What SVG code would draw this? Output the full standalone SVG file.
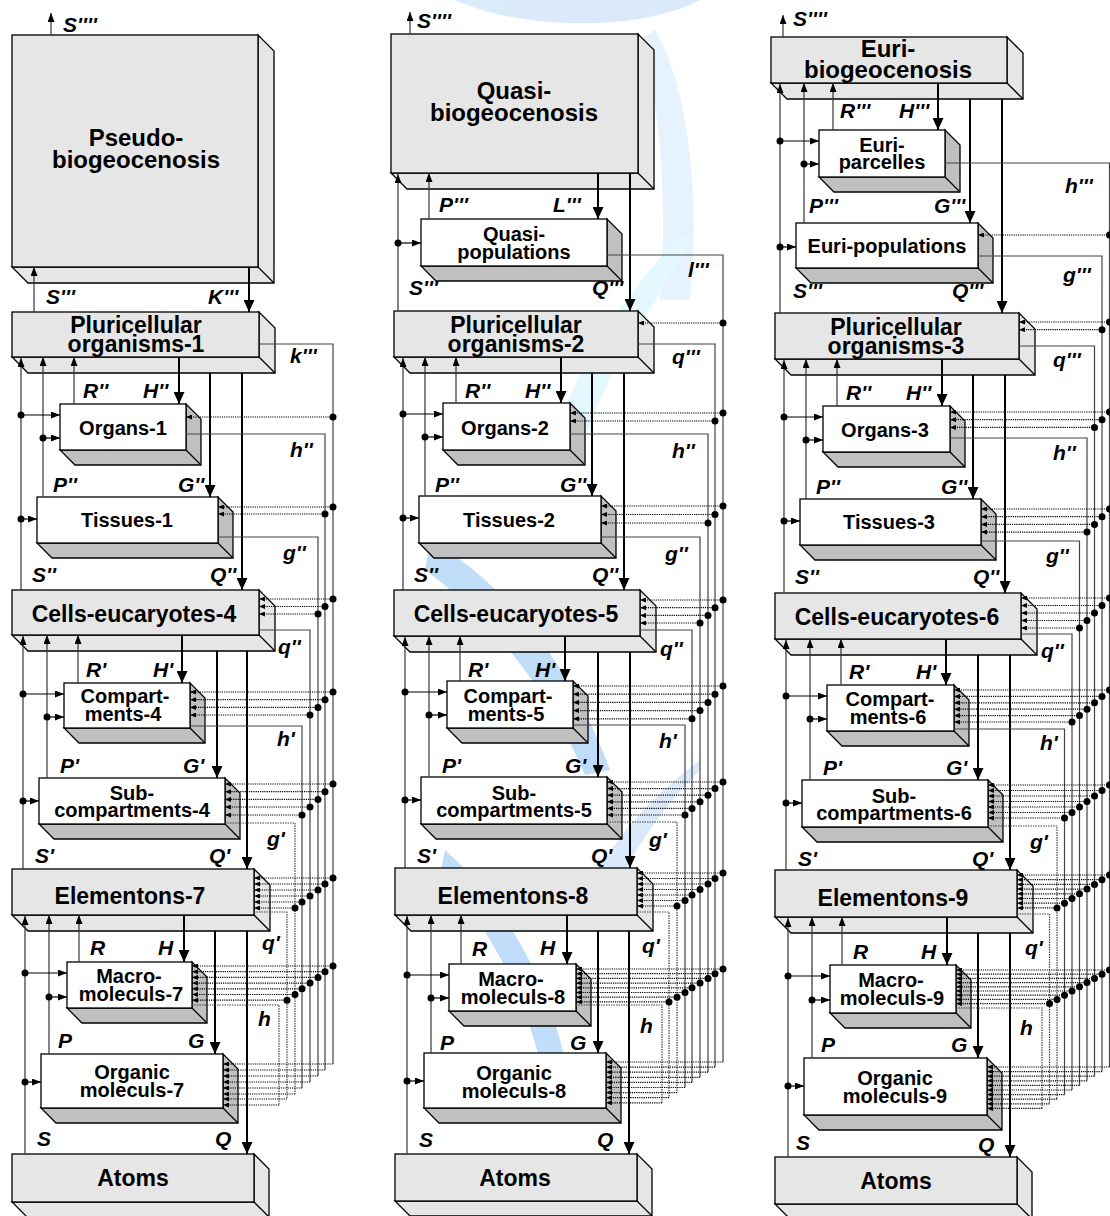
<svg xmlns="http://www.w3.org/2000/svg" width="1110" height="1216" viewBox="0 0 1110 1216">
<defs>
<marker id="ab" viewBox="0 0 12 11" refX="12" refY="5.5" markerWidth="12" markerHeight="11" markerUnits="userSpaceOnUse" orient="auto"><path d="M0,0 L12,5.5 L0,11 z" fill="#000"/></marker>
<marker id="am" viewBox="0 0 9 7" refX="9" refY="3.5" markerWidth="9" markerHeight="7" markerUnits="userSpaceOnUse" orient="auto"><path d="M0,0 L9,3.5 L0,7 z" fill="#000"/></marker>
<marker id="as" viewBox="0 0 6 5" refX="6" refY="2.5" markerWidth="6" markerHeight="5" markerUnits="userSpaceOnUse" orient="auto"><path d="M0,0 L6,2.5 L0,5 z" fill="#000"/></marker>
</defs>
<style>
.fg{fill:#e6e6e6;stroke:#000;stroke-width:1.3}
.sg{fill:#e6e6e6;stroke:#000;stroke-width:1.3;stroke-linejoin:miter}
.fw{fill:#fff;stroke:#000;stroke-width:1.3}
.sw{fill:#c0c0c0;stroke:#000;stroke-width:1.3;stroke-linejoin:miter}
.ed{stroke:#000;stroke-width:1.3}
.tn{font-family:"Liberation Sans",Arial,sans-serif;font-weight:bold;font-size:23px;text-anchor:middle;fill:#000}
.tb{font-family:"Liberation Sans",Arial,sans-serif;font-weight:bold;font-size:24px;text-anchor:middle;fill:#000}
.tw{font-family:"Liberation Sans",Arial,sans-serif;font-weight:bold;font-size:20px;text-anchor:middle;fill:#000}
.lb{font-family:"Liberation Sans",Arial,sans-serif;font-weight:bold;font-style:italic;font-size:21px;fill:#000}
.dn{stroke:#000;stroke-width:2;fill:none;marker-end:url(#ab)}
.up{stroke:#333;stroke-width:1.2;fill:none;marker-end:url(#am)}
.lf{stroke:#000;stroke-width:1.2;marker-end:url(#am)}
.bus{stroke:#444;stroke-width:1.2;fill:none}
.bd{stroke:#444;stroke-width:1.2;fill:none;stroke-dasharray:1.5 1}
.fd{stroke:#000;stroke-width:1.2;stroke-dasharray:1.2 1;marker-end:url(#as)}
.dt{fill:#000}
</style>
<rect width="1110" height="1216" fill="#fff"/>
<g id="watermark" opacity="0.38">
<path d="M455,0 C520,30 640,32 700,0 Z" fill="#9fcaf5"/>
<path d="M655,30 C690,90 700,200 690,300 L660,300 C668,200 660,100 640,40 Z" fill="#bfe0ff"/>
<path d="M690,240 C660,300 610,360 590,430 L560,420 C590,340 640,280 680,235 Z" fill="#b9f0ff"/>
<path d="M430,540 C500,580 570,660 610,770 L585,775 C545,680 480,610 425,570 Z" fill="#5aa8f0"/>
<path d="M700,770 C670,800 640,840 620,880 L600,870 C620,830 660,790 700,760 Z" fill="#9fcaf5"/>
<path d="M445,850 C500,900 545,970 565,1060 L540,1062 C520,980 480,915 440,875 Z" fill="#5aa8f0"/>
</g>
<g id="nodes">
<g id="n-pseudo"><polygon class="sg" points="12,267 258,267 258,35 274,51 274,283 28,283"/><line class="ed" x1="258" y1="267" x2="274" y2="283"/><rect class="fg" x="12" y="35" width="246" height="232"/><text class="tb" x="136" y="146">Pseudo-</text><text class="tb" x="136" y="168">biogeocenosis</text></g>
<g id="n-pluri1"><polygon class="sg" points="12,357 259,357 259,312 275,328 275,373 28,373"/><line class="ed" x1="259" y1="357" x2="275" y2="373"/><rect class="fg" x="12" y="312" width="247" height="45"/><text class="tn" x="136" y="333">Pluricellular</text><text class="tn" x="136" y="352">organisms-1</text></g>
<g id="n-organs1"><polygon class="sw" points="60,450 186,450 186,404 201,419 201,465 75,465"/><line class="ed" x1="186" y1="450" x2="201" y2="465"/><rect class="fw" x="60" y="404" width="126" height="46"/><text class="tw" x="123" y="435">Organs-1</text></g>
<g id="n-tissues1"><polygon class="sw" points="37,543 218,543 218,497 233,512 233,558 52,558"/><line class="ed" x1="218" y1="543" x2="233" y2="558"/><rect class="fw" x="37" y="497" width="181" height="46"/><text class="tw" x="127" y="527">Tissues-1</text></g>
<g id="n-cells4"><polygon class="sg" points="12,635 259,635 259,590 275,606 275,651 28,651"/><line class="ed" x1="259" y1="635" x2="275" y2="651"/><rect class="fg" x="12" y="590" width="247" height="45"/><text class="tn" x="134" y="622">Cells-eucaryotes-4</text></g>
<g id="n-comp4"><polygon class="sw" points="64,728 190,728 190,683 205,698 205,743 79,743"/><line class="ed" x1="190" y1="728" x2="205" y2="743"/><rect class="fw" x="64" y="683" width="126" height="45"/><text class="tw" x="125" y="703">Compart-</text><text class="tw" x="123" y="721">ments-4</text></g>
<g id="n-sub4"><polygon class="sw" points="39,824 225,824 225,778 240,793 240,839 54,839"/><line class="ed" x1="225" y1="824" x2="240" y2="839"/><rect class="fw" x="39" y="778" width="186" height="46"/><text class="tw" x="132" y="800">Sub-</text><text class="tw" x="132" y="817">compartments-4</text></g>
<g id="n-elem7"><polygon class="sg" points="12,915 254,915 254,869 270,885 270,931 28,931"/><line class="ed" x1="254" y1="915" x2="270" y2="931"/><rect class="fg" x="12" y="869" width="242" height="46"/><text class="tn" x="130" y="904">Elementons-7</text></g>
<g id="n-macro7"><polygon class="sw" points="67,1008 192,1008 192,962 207,977 207,1023 82,1023"/><line class="ed" x1="192" y1="1008" x2="207" y2="1023"/><rect class="fw" x="67" y="962" width="125" height="46"/><text class="tw" x="129" y="983">Macro-</text><text class="tw" x="131" y="1001">moleculs-7</text></g>
<g id="n-org7"><polygon class="sw" points="41,1108 223,1108 223,1054 238,1069 238,1123 56,1123"/><line class="ed" x1="223" y1="1108" x2="238" y2="1123"/><rect class="fw" x="41" y="1054" width="182" height="54"/><text class="tw" x="132" y="1079">Organic</text><text class="tw" x="132" y="1097">moleculs-7</text></g>
<g id="n-atoms1"><polygon class="sg" points="12,1202 254,1202 254,1154 269,1169 269,1217 27,1217"/><line class="ed" x1="254" y1="1202" x2="269" y2="1217"/><rect class="fg" x="12" y="1154" width="242" height="48"/><text class="tn" x="133" y="1186">Atoms</text></g>

<g id="n-quasibio"><polygon class="sg" points="391,173 638,173 638,34 654,50 654,189 407,189"/><line class="ed" x1="638" y1="173" x2="654" y2="189"/><rect class="fg" x="391" y="34" width="247" height="139"/><text class="tb" x="514" y="99">Quasi-</text><text class="tb" x="514" y="121">biogeocenosis</text></g>
<g id="n-quasipop"><polygon class="sw" points="421,266 607,266 607,219 622,234 622,281 436,281"/><line class="ed" x1="607" y1="266" x2="622" y2="281"/><rect class="fw" x="421" y="219" width="186" height="47"/><text class="tw" x="514" y="241">Quasi-</text><text class="tw" x="514" y="259">populations</text></g>
<g id="n-pluri2"><polygon class="sg" points="394,357 638,357 638,311 654,327 654,373 410,373"/><line class="ed" x1="638" y1="357" x2="654" y2="373"/><rect class="fg" x="394" y="311" width="244" height="46"/><text class="tn" x="516" y="333">Pluricellular</text><text class="tn" x="516" y="352">organisms-2</text></g>
<g id="n-organs2"><polygon class="sw" points="443,450 570,450 570,403 585,418 585,465 458,465"/><line class="ed" x1="570" y1="450" x2="585" y2="465"/><rect class="fw" x="443" y="403" width="127" height="47"/><text class="tw" x="505" y="435">Organs-2</text></g>
<g id="n-tissues2"><polygon class="sw" points="419,543 601,543 601,496 616,511 616,558 434,558"/><line class="ed" x1="601" y1="543" x2="616" y2="558"/><rect class="fw" x="419" y="496" width="182" height="47"/><text class="tw" x="509" y="527">Tissues-2</text></g>
<g id="n-cells5"><polygon class="sg" points="394,636 640,636 640,590 656,606 656,652 410,652"/><line class="ed" x1="640" y1="636" x2="656" y2="652"/><rect class="fg" x="394" y="590" width="246" height="46"/><text class="tn" x="516" y="622">Cells-eucaryotes-5</text></g>
<g id="n-comp5"><polygon class="sw" points="447,728 573,728 573,681 588,696 588,743 462,743"/><line class="ed" x1="573" y1="728" x2="588" y2="743"/><rect class="fw" x="447" y="681" width="126" height="47"/><text class="tw" x="508" y="703">Compart-</text><text class="tw" x="506" y="721">ments-5</text></g>
<g id="n-sub5"><polygon class="sw" points="421,824 607,824 607,777 622,792 622,839 436,839"/><line class="ed" x1="607" y1="824" x2="622" y2="839"/><rect class="fw" x="421" y="777" width="186" height="47"/><text class="tw" x="514" y="800">Sub-</text><text class="tw" x="514" y="817">compartments-5</text></g>
<g id="n-elem8"><polygon class="sg" points="395,915 637,915 637,868 653,884 653,931 411,931"/><line class="ed" x1="637" y1="915" x2="653" y2="931"/><rect class="fg" x="395" y="868" width="242" height="47"/><text class="tn" x="513" y="904">Elementons-8</text></g>
<g id="n-macro8"><polygon class="sw" points="449,1011 576,1011 576,964 591,979 591,1026 464,1026"/><line class="ed" x1="576" y1="1011" x2="591" y2="1026"/><rect class="fw" x="449" y="964" width="127" height="47"/><text class="tw" x="511" y="986">Macro-</text><text class="tw" x="513" y="1004">moleculs-8</text></g>
<g id="n-org8"><polygon class="sw" points="424,1108 606,1108 606,1053 621,1068 621,1123 439,1123"/><line class="ed" x1="606" y1="1108" x2="621" y2="1123"/><rect class="fw" x="424" y="1053" width="182" height="55"/><text class="tw" x="514" y="1080">Organic</text><text class="tw" x="514" y="1098">moleculs-8</text></g>
<g id="n-atoms2"><polygon class="sg" points="395,1201 637,1201 637,1154 652,1169 652,1216 410,1216"/><line class="ed" x1="637" y1="1201" x2="652" y2="1216"/><rect class="fg" x="395" y="1154" width="242" height="47"/><text class="tn" x="515" y="1186">Atoms</text></g>

<g id="n-euribio"><polygon class="sg" points="771,83 1007,83 1007,37 1023,53 1023,99 787,99"/><line class="ed" x1="1007" y1="83" x2="1023" y2="99"/><rect class="fg" x="771" y="37" width="236" height="46"/><text class="tb" x="888" y="57">Euri-</text><text class="tb" x="888" y="78">biogeocenosis</text></g>
<g id="n-eurip"><polygon class="sw" points="819,177 945,177 945,130 960,145 960,192 834,192"/><line class="ed" x1="945" y1="177" x2="960" y2="192"/><rect class="fw" x="819" y="130" width="126" height="47"/><text class="tw" x="882" y="152">Euri-</text><text class="tw" x="882" y="169">parcelles</text></g>
<g id="n-euripop"><polygon class="sw" points="796,268 978,268 978,223 993,238 993,283 811,283"/><line class="ed" x1="978" y1="268" x2="993" y2="283"/><rect class="fw" x="796" y="223" width="182" height="45"/><text class="tw" x="887" y="253">Euri-populations</text></g>
<g id="n-pluri3"><polygon class="sg" points="775,359 1019,359 1019,313 1035,329 1035,375 791,375"/><line class="ed" x1="1019" y1="359" x2="1035" y2="375"/><rect class="fg" x="775" y="313" width="244" height="46"/><text class="tn" x="896" y="335">Pluricellular</text><text class="tn" x="896" y="354">organisms-3</text></g>
<g id="n-organs3"><polygon class="sw" points="823,452 950,452 950,406 965,421 965,467 838,467"/><line class="ed" x1="950" y1="452" x2="965" y2="467"/><rect class="fw" x="823" y="406" width="127" height="46"/><text class="tw" x="885" y="437">Organs-3</text></g>
<g id="n-tissues3"><polygon class="sw" points="800,545 981,545 981,499 996,514 996,560 815,560"/><line class="ed" x1="981" y1="545" x2="996" y2="560"/><rect class="fw" x="800" y="499" width="181" height="46"/><text class="tw" x="889" y="529">Tissues-3</text></g>
<g id="n-cells6"><polygon class="sg" points="775,639 1021,639 1021,593 1037,609 1037,655 791,655"/><line class="ed" x1="1021" y1="639" x2="1037" y2="655"/><rect class="fg" x="775" y="593" width="246" height="46"/><text class="tn" x="897" y="625">Cells-eucaryotes-6</text></g>
<g id="n-comp6"><polygon class="sw" points="827,731 954,731 954,685 969,700 969,746 842,746"/><line class="ed" x1="954" y1="731" x2="969" y2="746"/><rect class="fw" x="827" y="685" width="127" height="46"/><text class="tw" x="890" y="706">Compart-</text><text class="tw" x="888" y="724">ments-6</text></g>
<g id="n-sub6"><polygon class="sw" points="802,827 988,827 988,780 1003,795 1003,842 817,842"/><line class="ed" x1="988" y1="827" x2="1003" y2="842"/><rect class="fw" x="802" y="780" width="186" height="47"/><text class="tw" x="894" y="803">Sub-</text><text class="tw" x="894" y="820">compartments-6</text></g>
<g id="n-elem9"><polygon class="sg" points="775,917 1017,917 1017,870 1033,886 1033,933 791,933"/><line class="ed" x1="1017" y1="917" x2="1033" y2="933"/><rect class="fg" x="775" y="870" width="242" height="47"/><text class="tn" x="893" y="906">Elementons-9</text></g>
<g id="n-macro9"><polygon class="sw" points="830,1013 956,1013 956,965 971,980 971,1028 845,1028"/><line class="ed" x1="956" y1="1013" x2="971" y2="1028"/><rect class="fw" x="830" y="965" width="126" height="48"/><text class="tw" x="891" y="987">Macro-</text><text class="tw" x="892" y="1005">moleculs-9</text></g>
<g id="n-org9"><polygon class="sw" points="804,1115 987,1115 987,1058 1002,1073 1002,1130 819,1130"/><line class="ed" x1="987" y1="1115" x2="1002" y2="1130"/><rect class="fw" x="804" y="1058" width="183" height="57"/><text class="tw" x="895" y="1085">Organic</text><text class="tw" x="895" y="1103">moleculs-9</text></g>
<g id="n-atoms3"><polygon class="sg" points="775,1204 1017,1204 1017,1157 1032,1172 1032,1219 790,1219"/><line class="ed" x1="1017" y1="1204" x2="1032" y2="1219"/><rect class="fg" x="775" y="1157" width="242" height="47"/><text class="tn" x="896" y="1189">Atoms</text></g>
</g>

<g id="connectors">
<g class="c1">
<line class="dn" x1="249" y1="267" x2="249" y2="312"/>
<line class="dn" x1="179" y1="357" x2="179" y2="404"/>
<line class="dn" x1="210" y1="373" x2="210" y2="497"/>
<line class="dn" x1="242" y1="373" x2="242" y2="590"/>
<line class="dn" x1="182" y1="635" x2="182" y2="683"/>
<line class="dn" x1="217" y1="651" x2="217" y2="778"/>
<line class="dn" x1="247" y1="651" x2="247" y2="869"/>
<line class="dn" x1="184" y1="915" x2="184" y2="962"/>
<line class="dn" x1="215" y1="931" x2="215" y2="1054"/>
<line class="dn" x1="247" y1="931" x2="247" y2="1154"/>
<line class="up" x1="51" y1="35" x2="51" y2="13"/>
<line class="up" x1="34" y1="312" x2="34" y2="267"/>
<line class="up" x1="74" y1="404" x2="74" y2="357"/>
<line class="up" x1="43" y1="497" x2="43" y2="357"/>
<line class="up" x1="21" y1="590" x2="21" y2="358"/>
<line class="up" x1="78" y1="683" x2="78" y2="635"/>
<line class="up" x1="47" y1="778" x2="47" y2="635"/>
<line class="up" x1="23" y1="869" x2="23" y2="636"/>
<line class="up" x1="79" y1="962" x2="79" y2="915"/>
<line class="up" x1="49" y1="1054" x2="49" y2="915"/>
<line class="up" x1="25" y1="1154" x2="25" y2="916"/>
<line class="lf" x1="21" y1="415" x2="60" y2="415"/><line class="lf" x1="43" y1="438" x2="60" y2="438"/>
<line class="lf" x1="21" y1="519" x2="37" y2="519"/>
<line class="lf" x1="23" y1="694" x2="64" y2="694"/><line class="lf" x1="47" y1="717" x2="64" y2="717"/>
<line class="lf" x1="23" y1="801" x2="39" y2="801"/>
<line class="lf" x1="25" y1="973" x2="67" y2="973"/><line class="lf" x1="49" y1="997" x2="67" y2="997"/>
<line class="lf" x1="25" y1="1082" x2="41" y2="1082"/>
<g class="dt"><circle cx="21" cy="415" r="3.5"/><circle cx="43" cy="438" r="3.5"/><circle cx="21" cy="519" r="3.5"/><circle cx="23" cy="694" r="3.5"/><circle cx="47" cy="717" r="3.5"/><circle cx="23" cy="801" r="3.5"/><circle cx="25" cy="973" r="3.5"/><circle cx="49" cy="997" r="3.5"/><circle cx="25" cy="1082" r="3.5"/></g>
<path class="bus" d="M259,344 H333 V1064"/>
<path class="bus" d="M186,434 H325 V1070"/>
<path class="bus" d="M218,537 H318 V1076"/>
<path class="bus" d="M259,630 H310 V1082"/>
<path class="bus" d="M190,726 H302 V1088"/>
<path class="bd" d="M225,823 H295 V1094"/>
<path class="bd" d="M254,912 H287 V1099"/>
<path class="bd" d="M192,1005 H279 V1105"/>
<line class="fd" x1="333" y1="417" x2="186" y2="417"/>
<line class="fd" x1="333" y1="507" x2="218" y2="507"/><line class="fd" x1="325" y1="514" x2="218" y2="514"/>
<line class="fd" x1="333" y1="599" x2="259" y2="599"/><line class="fd" x1="325" y1="606.5" x2="259" y2="606.5"/><line class="fd" x1="318" y1="614" x2="259" y2="614"/>
<line class="fd" x1="333" y1="692" x2="190" y2="692"/><line class="fd" x1="325" y1="699.7" x2="190" y2="699.7"/><line class="fd" x1="318" y1="707.4" x2="190" y2="707.4"/><line class="fd" x1="310" y1="715" x2="190" y2="715"/>
<line class="fd" x1="333" y1="784" x2="225" y2="784"/><line class="fd" x1="325" y1="791.7" x2="225" y2="791.7"/><line class="fd" x1="318" y1="799.4" x2="225" y2="799.4"/><line class="fd" x1="310" y1="807" x2="225" y2="807"/><line class="fd" x1="302" y1="815" x2="225" y2="815"/>
<line class="fd" x1="333" y1="878" x2="254" y2="878"/><line class="fd" x1="325" y1="884" x2="254" y2="884"/><line class="fd" x1="318" y1="890" x2="254" y2="890"/><line class="fd" x1="310" y1="896" x2="254" y2="896"/><line class="fd" x1="302" y1="902" x2="254" y2="902"/><line class="fd" x1="295" y1="908" x2="254" y2="908"/>
<line class="fd" x1="333" y1="966" x2="192" y2="966"/><line class="fd" x1="325" y1="971.7" x2="192" y2="971.7"/><line class="fd" x1="318" y1="977.4" x2="192" y2="977.4"/><line class="fd" x1="310" y1="983.1" x2="192" y2="983.1"/><line class="fd" x1="302" y1="988.8" x2="192" y2="988.8"/><line class="fd" x1="295" y1="994.5" x2="192" y2="994.5"/><line class="fd" x1="287" y1="1000.2" x2="192" y2="1000.2"/>
<line class="fd" x1="333" y1="1064" x2="223" y2="1064"/><line class="fd" x1="325" y1="1070" x2="223" y2="1070"/><line class="fd" x1="318" y1="1076" x2="223" y2="1076"/><line class="fd" x1="310" y1="1082" x2="223" y2="1082"/><line class="fd" x1="302" y1="1088" x2="223" y2="1088"/><line class="fd" x1="295" y1="1094" x2="223" y2="1094"/><line class="fd" x1="287" y1="1099" x2="223" y2="1099"/><line class="fd" x1="279" y1="1105" x2="223" y2="1105"/>
<g class="dt">
<circle cx="333" cy="417" r="3.5"/>
<circle cx="333" cy="507" r="3.5"/><circle cx="325" cy="514" r="3.5"/>
<circle cx="333" cy="599" r="3.5"/><circle cx="325" cy="606.5" r="3.5"/><circle cx="318" cy="614" r="3.5"/>
<circle cx="333" cy="692" r="3.5"/><circle cx="325" cy="699.7" r="3.5"/><circle cx="318" cy="707.4" r="3.5"/><circle cx="310" cy="715" r="3.5"/>
<circle cx="333" cy="784" r="3.5"/><circle cx="325" cy="791.7" r="3.5"/><circle cx="318" cy="799.4" r="3.5"/><circle cx="310" cy="807" r="3.5"/><circle cx="302" cy="815" r="3.5"/>
<circle cx="333" cy="878" r="3.5"/><circle cx="325" cy="884" r="3.5"/><circle cx="318" cy="890" r="3.5"/><circle cx="310" cy="896" r="3.5"/><circle cx="302" cy="902" r="3.5"/><circle cx="295" cy="908" r="3.5"/>
<circle cx="333" cy="966" r="3.5"/><circle cx="325" cy="971.7" r="3.5"/><circle cx="318" cy="977.4" r="3.5"/><circle cx="310" cy="983.1" r="3.5"/><circle cx="302" cy="988.8" r="3.5"/><circle cx="295" cy="994.5" r="3.5"/><circle cx="287" cy="1000.2" r="3.5"/>
</g>
</g>
<g class="c2">
<line class="dn" x1="598" y1="173" x2="598" y2="219"/>
<line class="dn" x1="630" y1="173" x2="630" y2="311"/>
<line class="dn" x1="561" y1="357" x2="561" y2="403"/>
<line class="dn" x1="592" y1="373" x2="592" y2="496"/>
<line class="dn" x1="624" y1="373" x2="624" y2="590"/>
<line class="dn" x1="565" y1="636" x2="565" y2="681"/>
<line class="dn" x1="598" y1="652" x2="598" y2="777"/>
<line class="dn" x1="630" y1="652" x2="630" y2="868"/>
<line class="dn" x1="567" y1="915" x2="567" y2="964"/>
<line class="dn" x1="598" y1="931" x2="598" y2="1053"/>
<line class="dn" x1="629" y1="931" x2="629" y2="1154"/>
<line class="up" x1="410" y1="34" x2="410" y2="12"/>
<line class="up" x1="398" y1="311" x2="398" y2="174"/>
<line class="up" x1="429" y1="219" x2="429" y2="173"/>
<line class="up" x1="456" y1="403" x2="456" y2="357"/>
<line class="up" x1="425" y1="496" x2="425" y2="357"/>
<line class="up" x1="403" y1="590" x2="403" y2="358"/>
<line class="up" x1="460" y1="681" x2="460" y2="636"/>
<line class="up" x1="429" y1="777" x2="429" y2="636"/>
<line class="up" x1="405" y1="868" x2="405" y2="637"/>
<line class="up" x1="461" y1="964" x2="461" y2="915"/>
<line class="up" x1="431" y1="1053" x2="431" y2="915"/>
<line class="up" x1="407" y1="1154" x2="407" y2="916"/>
<line class="lf" x1="398" y1="243" x2="421" y2="243"/>
<line class="lf" x1="403" y1="414" x2="443" y2="414"/><line class="lf" x1="425" y1="437" x2="443" y2="437"/>
<line class="lf" x1="403" y1="518" x2="419" y2="518"/>
<line class="lf" x1="405" y1="692" x2="447" y2="692"/><line class="lf" x1="429" y1="715" x2="447" y2="715"/>
<line class="lf" x1="405" y1="800" x2="421" y2="800"/>
<line class="lf" x1="407" y1="975" x2="449" y2="975"/><line class="lf" x1="431" y1="998" x2="449" y2="998"/>
<line class="lf" x1="407" y1="1081" x2="424" y2="1081"/>
<g class="dt"><circle cx="398" cy="243" r="3.5"/><circle cx="403" cy="414" r="3.5"/><circle cx="425" cy="437" r="3.5"/><circle cx="403" cy="518" r="3.5"/><circle cx="405" cy="692" r="3.5"/><circle cx="429" cy="715" r="3.5"/><circle cx="405" cy="800" r="3.5"/><circle cx="407" cy="975" r="3.5"/><circle cx="431" cy="998" r="3.5"/><circle cx="407" cy="1081" r="3.5"/></g>
<path class="bus" d="M607,255 H723 V1062"/>
<path class="bus" d="M638,344 H715 V1067.1"/>
<path class="bus" d="M570,434 H708 V1072.2"/>
<path class="bus" d="M601,537 H700 V1077.3"/>
<path class="bus" d="M640,630 H692 V1082.4"/>
<path class="bus" d="M573,725 H685 V1087.5"/>
<path class="bd" d="M607,822 H677 V1092.6"/>
<path class="bd" d="M637,912 H669 V1097.7"/>
<path class="bd" d="M576,1005 H662 V1102.8"/>
<line class="fd" x1="723" y1="323" x2="638" y2="323"/>
<line class="fd" x1="723" y1="413" x2="570" y2="413"/><line class="fd" x1="715" y1="421" x2="570" y2="421"/>
<line class="fd" x1="723" y1="506" x2="601" y2="506"/><line class="fd" x1="715" y1="514.5" x2="601" y2="514.5"/><line class="fd" x1="708" y1="523" x2="601" y2="523"/>
<line class="fd" x1="723" y1="600" x2="640" y2="600"/><line class="fd" x1="715" y1="607.7" x2="640" y2="607.7"/><line class="fd" x1="708" y1="615.4" x2="640" y2="615.4"/><line class="fd" x1="700" y1="623" x2="640" y2="623"/>
<line class="fd" x1="723" y1="686" x2="573" y2="686"/><line class="fd" x1="715" y1="694.2" x2="573" y2="694.2"/><line class="fd" x1="708" y1="702.4" x2="573" y2="702.4"/><line class="fd" x1="700" y1="710.6" x2="573" y2="710.6"/><line class="fd" x1="692" y1="718.8" x2="573" y2="718.8"/>
<line class="fd" x1="723" y1="782" x2="607" y2="782"/><line class="fd" x1="715" y1="788.6" x2="607" y2="788.6"/><line class="fd" x1="708" y1="795.2" x2="607" y2="795.2"/><line class="fd" x1="700" y1="801.8" x2="607" y2="801.8"/><line class="fd" x1="692" y1="808.4" x2="607" y2="808.4"/><line class="fd" x1="685" y1="815" x2="607" y2="815"/>
<line class="fd" x1="723" y1="873" x2="637" y2="873"/><line class="fd" x1="715" y1="878.5" x2="637" y2="878.5"/><line class="fd" x1="708" y1="884" x2="637" y2="884"/><line class="fd" x1="700" y1="889.5" x2="637" y2="889.5"/><line class="fd" x1="692" y1="895" x2="637" y2="895"/><line class="fd" x1="685" y1="900.5" x2="637" y2="900.5"/><line class="fd" x1="677" y1="906" x2="637" y2="906"/>
<line class="fd" x1="723" y1="969" x2="576" y2="969"/><line class="fd" x1="715" y1="973.7" x2="576" y2="973.7"/><line class="fd" x1="708" y1="978.4" x2="576" y2="978.4"/><line class="fd" x1="700" y1="983.1" x2="576" y2="983.1"/><line class="fd" x1="692" y1="987.8" x2="576" y2="987.8"/><line class="fd" x1="685" y1="992.5" x2="576" y2="992.5"/><line class="fd" x1="677" y1="997.2" x2="576" y2="997.2"/><line class="fd" x1="669" y1="1001.9" x2="576" y2="1001.9"/>
<line class="fd" x1="723" y1="1062" x2="606" y2="1062"/><line class="fd" x1="715" y1="1067.1" x2="606" y2="1067.1"/><line class="fd" x1="708" y1="1072.2" x2="606" y2="1072.2"/><line class="fd" x1="700" y1="1077.3" x2="606" y2="1077.3"/><line class="fd" x1="692" y1="1082.4" x2="606" y2="1082.4"/><line class="fd" x1="685" y1="1087.5" x2="606" y2="1087.5"/><line class="fd" x1="677" y1="1092.6" x2="606" y2="1092.6"/><line class="fd" x1="669" y1="1097.7" x2="606" y2="1097.7"/><line class="fd" x1="662" y1="1102.8" x2="606" y2="1102.8"/>
<g class="dt">
<circle cx="723" cy="323" r="3.5"/>
<circle cx="723" cy="413" r="3.5"/><circle cx="715" cy="421" r="3.5"/>
<circle cx="723" cy="506" r="3.5"/><circle cx="715" cy="514.5" r="3.5"/><circle cx="708" cy="523" r="3.5"/>
<circle cx="723" cy="600" r="3.5"/><circle cx="715" cy="607.7" r="3.5"/><circle cx="708" cy="615.4" r="3.5"/><circle cx="700" cy="623" r="3.5"/>
<circle cx="723" cy="686" r="3.5"/><circle cx="715" cy="694.2" r="3.5"/><circle cx="708" cy="702.4" r="3.5"/><circle cx="700" cy="710.6" r="3.5"/><circle cx="692" cy="718.8" r="3.5"/>
<circle cx="723" cy="782" r="3.5"/><circle cx="715" cy="788.6" r="3.5"/><circle cx="708" cy="795.2" r="3.5"/><circle cx="700" cy="801.8" r="3.5"/><circle cx="692" cy="808.4" r="3.5"/><circle cx="685" cy="815" r="3.5"/>
<circle cx="723" cy="873" r="3.5"/><circle cx="715" cy="878.5" r="3.5"/><circle cx="708" cy="884" r="3.5"/><circle cx="700" cy="889.5" r="3.5"/><circle cx="692" cy="895" r="3.5"/><circle cx="685" cy="900.5" r="3.5"/><circle cx="677" cy="906" r="3.5"/>
<circle cx="723" cy="969" r="3.5"/><circle cx="715" cy="973.7" r="3.5"/><circle cx="708" cy="978.4" r="3.5"/><circle cx="700" cy="983.1" r="3.5"/><circle cx="692" cy="987.8" r="3.5"/><circle cx="685" cy="992.5" r="3.5"/><circle cx="677" cy="997.2" r="3.5"/><circle cx="669" cy="1001.9" r="3.5"/>
</g>
</g>
<g class="c3">
<line class="dn" x1="938" y1="83" x2="938" y2="130"/>
<line class="dn" x1="970" y1="99" x2="970" y2="223"/>
<line class="dn" x1="1002" y1="99" x2="1002" y2="313"/>
<line class="dn" x1="942" y1="359" x2="942" y2="406"/>
<line class="dn" x1="973" y1="375" x2="973" y2="499"/>
<line class="dn" x1="1005" y1="375" x2="1005" y2="593"/>
<line class="dn" x1="946" y1="639" x2="946" y2="685"/>
<line class="dn" x1="978" y1="655" x2="978" y2="780"/>
<line class="dn" x1="1010" y1="655" x2="1010" y2="870"/>
<line class="dn" x1="947" y1="917" x2="947" y2="965"/>
<line class="dn" x1="978" y1="933" x2="978" y2="1058"/>
<line class="dn" x1="1010" y1="933" x2="1010" y2="1157"/>
<line class="up" x1="783" y1="37" x2="783" y2="15"/>
<line class="up" x1="833" y1="130" x2="833" y2="83"/>
<line class="up" x1="804" y1="223" x2="804" y2="83"/>
<line class="up" x1="780" y1="313" x2="780" y2="84"/>
<line class="up" x1="837" y1="406" x2="837" y2="359"/>
<line class="up" x1="806" y1="499" x2="806" y2="359"/>
<line class="up" x1="784" y1="593" x2="784" y2="360"/>
<line class="up" x1="841" y1="685" x2="841" y2="639"/>
<line class="up" x1="810" y1="780" x2="810" y2="639"/>
<line class="up" x1="786" y1="870" x2="786" y2="640"/>
<line class="up" x1="842" y1="965" x2="842" y2="917"/>
<line class="up" x1="812" y1="1058" x2="812" y2="917"/>
<line class="up" x1="788" y1="1157" x2="788" y2="918"/>
<line class="lf" x1="780" y1="141" x2="819" y2="141"/><line class="lf" x1="804" y1="164" x2="819" y2="164"/>
<line class="lf" x1="780" y1="247" x2="796" y2="247"/>
<line class="lf" x1="784" y1="417" x2="823" y2="417"/><line class="lf" x1="806" y1="440" x2="823" y2="440"/>
<line class="lf" x1="784" y1="521" x2="800" y2="521"/>
<line class="lf" x1="786" y1="696" x2="827" y2="696"/><line class="lf" x1="810" y1="719" x2="827" y2="719"/>
<line class="lf" x1="786" y1="803" x2="802" y2="803"/>
<line class="lf" x1="788" y1="976" x2="830" y2="976"/><line class="lf" x1="812" y1="1000" x2="830" y2="1000"/>
<line class="lf" x1="788" y1="1086" x2="804" y2="1086"/>
<g class="dt"><circle cx="780" cy="141" r="3.5"/><circle cx="804" cy="164" r="3.5"/><circle cx="780" cy="247" r="3.5"/><circle cx="784" cy="417" r="3.5"/><circle cx="806" cy="440" r="3.5"/><circle cx="784" cy="521" r="3.5"/><circle cx="786" cy="696" r="3.5"/><circle cx="810" cy="719" r="3.5"/><circle cx="786" cy="803" r="3.5"/><circle cx="788" cy="976" r="3.5"/><circle cx="812" cy="1000" r="3.5"/><circle cx="788" cy="1086" r="3.5"/></g>
<path class="bus" d="M945,163 H1109.5 V1067"/>
<path class="bus" d="M978,256 H1102 V1071.6"/>
<path class="bus" d="M1019,346 H1094.5 V1076.2"/>
<path class="bus" d="M950,438 H1087 V1080.8"/>
<path class="bus" d="M981,541 H1079.5 V1085.4"/>
<path class="bus" d="M1021,634 H1072 V1090"/>
<path class="bus" d="M954,729 H1064.5 V1094.6"/>
<path class="bd" d="M988,826 H1057 V1099.2"/>
<path class="bd" d="M1017,914 H1049.5 V1103.8"/>
<path class="bd" d="M956,1008 H1042 V1108.4"/>
<line class="fd" x1="1109.5" y1="235" x2="978" y2="235"/>
<line class="fd" x1="1109.5" y1="322" x2="1019" y2="322"/><line class="fd" x1="1102" y1="329.7" x2="1019" y2="329.7"/>
<line class="fd" x1="1109.5" y1="412" x2="950" y2="412"/><line class="fd" x1="1102" y1="419.7" x2="950" y2="419.7"/><line class="fd" x1="1094.5" y1="427.4" x2="950" y2="427.4"/>
<line class="fd" x1="1109.5" y1="509" x2="981" y2="509"/><line class="fd" x1="1102" y1="516.7" x2="981" y2="516.7"/><line class="fd" x1="1094.5" y1="524.4" x2="981" y2="524.4"/><line class="fd" x1="1087" y1="532.1" x2="981" y2="532.1"/>
<line class="fd" x1="1109.5" y1="598" x2="1021" y2="598"/><line class="fd" x1="1102" y1="605.5" x2="1021" y2="605.5"/><line class="fd" x1="1094.5" y1="613" x2="1021" y2="613"/><line class="fd" x1="1087" y1="620.5" x2="1021" y2="620.5"/><line class="fd" x1="1079.5" y1="628" x2="1021" y2="628"/>
<line class="fd" x1="1109.5" y1="690" x2="954" y2="690"/><line class="fd" x1="1102" y1="696.4" x2="954" y2="696.4"/><line class="fd" x1="1094.5" y1="702.8" x2="954" y2="702.8"/><line class="fd" x1="1087" y1="709.2" x2="954" y2="709.2"/><line class="fd" x1="1079.5" y1="715.6" x2="954" y2="715.6"/><line class="fd" x1="1072" y1="722" x2="954" y2="722"/>
<line class="fd" x1="1109.5" y1="785" x2="988" y2="785"/><line class="fd" x1="1102" y1="790.5" x2="988" y2="790.5"/><line class="fd" x1="1094.5" y1="796" x2="988" y2="796"/><line class="fd" x1="1087" y1="801.5" x2="988" y2="801.5"/><line class="fd" x1="1079.5" y1="807" x2="988" y2="807"/><line class="fd" x1="1072" y1="812.5" x2="988" y2="812.5"/><line class="fd" x1="1064.5" y1="818" x2="988" y2="818"/>
<line class="fd" x1="1109.5" y1="875" x2="1017" y2="875"/><line class="fd" x1="1102" y1="879.7" x2="1017" y2="879.7"/><line class="fd" x1="1094.5" y1="884.4" x2="1017" y2="884.4"/><line class="fd" x1="1087" y1="889.1" x2="1017" y2="889.1"/><line class="fd" x1="1079.5" y1="893.8" x2="1017" y2="893.8"/><line class="fd" x1="1072" y1="898.5" x2="1017" y2="898.5"/><line class="fd" x1="1064.5" y1="903.2" x2="1017" y2="903.2"/><line class="fd" x1="1057" y1="907.9" x2="1017" y2="907.9"/>
<line class="fd" x1="1109.5" y1="970" x2="956" y2="970"/><line class="fd" x1="1102" y1="974.2" x2="956" y2="974.2"/><line class="fd" x1="1094.5" y1="978.4" x2="956" y2="978.4"/><line class="fd" x1="1087" y1="982.6" x2="956" y2="982.6"/><line class="fd" x1="1079.5" y1="986.8" x2="956" y2="986.8"/><line class="fd" x1="1072" y1="991" x2="956" y2="991"/><line class="fd" x1="1064.5" y1="995.2" x2="956" y2="995.2"/><line class="fd" x1="1057" y1="999.4" x2="956" y2="999.4"/><line class="fd" x1="1049.5" y1="1003.6" x2="956" y2="1003.6"/>
<line class="fd" x1="1109.5" y1="1067" x2="987" y2="1067"/><line class="fd" x1="1102" y1="1071.6" x2="987" y2="1071.6"/><line class="fd" x1="1094.5" y1="1076.2" x2="987" y2="1076.2"/><line class="fd" x1="1087" y1="1080.8" x2="987" y2="1080.8"/><line class="fd" x1="1079.5" y1="1085.4" x2="987" y2="1085.4"/><line class="fd" x1="1072" y1="1090" x2="987" y2="1090"/><line class="fd" x1="1064.5" y1="1094.6" x2="987" y2="1094.6"/><line class="fd" x1="1057" y1="1099.2" x2="987" y2="1099.2"/><line class="fd" x1="1049.5" y1="1103.8" x2="987" y2="1103.8"/><line class="fd" x1="1042" y1="1108.4" x2="987" y2="1108.4"/>
<g class="dt">
<circle cx="1109.5" cy="235" r="3.5"/>
<circle cx="1109.5" cy="322" r="3.5"/><circle cx="1102" cy="329.7" r="3.5"/>
<circle cx="1109.5" cy="412" r="3.5"/><circle cx="1102" cy="419.7" r="3.5"/><circle cx="1094.5" cy="427.4" r="3.5"/>
<circle cx="1109.5" cy="509" r="3.5"/><circle cx="1102" cy="516.7" r="3.5"/><circle cx="1094.5" cy="524.4" r="3.5"/><circle cx="1087" cy="532.1" r="3.5"/>
<circle cx="1109.5" cy="598" r="3.5"/><circle cx="1102" cy="605.5" r="3.5"/><circle cx="1094.5" cy="613" r="3.5"/><circle cx="1087" cy="620.5" r="3.5"/><circle cx="1079.5" cy="628" r="3.5"/>
<circle cx="1109.5" cy="690" r="3.5"/><circle cx="1102" cy="696.4" r="3.5"/><circle cx="1094.5" cy="702.8" r="3.5"/><circle cx="1087" cy="709.2" r="3.5"/><circle cx="1079.5" cy="715.6" r="3.5"/><circle cx="1072" cy="722" r="3.5"/>
<circle cx="1109.5" cy="785" r="3.5"/><circle cx="1102" cy="790.5" r="3.5"/><circle cx="1094.5" cy="796" r="3.5"/><circle cx="1087" cy="801.5" r="3.5"/><circle cx="1079.5" cy="807" r="3.5"/><circle cx="1072" cy="812.5" r="3.5"/><circle cx="1064.5" cy="818" r="3.5"/>
<circle cx="1109.5" cy="875" r="3.5"/><circle cx="1102" cy="879.7" r="3.5"/><circle cx="1094.5" cy="884.4" r="3.5"/><circle cx="1087" cy="889.1" r="3.5"/><circle cx="1079.5" cy="893.8" r="3.5"/><circle cx="1072" cy="898.5" r="3.5"/><circle cx="1064.5" cy="903.2" r="3.5"/><circle cx="1057" cy="907.9" r="3.5"/>
<circle cx="1109.5" cy="970" r="3.5"/><circle cx="1102" cy="974.2" r="3.5"/><circle cx="1094.5" cy="978.4" r="3.5"/><circle cx="1087" cy="982.6" r="3.5"/><circle cx="1079.5" cy="986.8" r="3.5"/><circle cx="1072" cy="991" r="3.5"/><circle cx="1064.5" cy="995.2" r="3.5"/><circle cx="1057" cy="999.4" r="3.5"/><circle cx="1049.5" cy="1003.6" r="3.5"/>
</g>
</g>
</g>

<g id="labels">
<text class="lb" x="63" y="32">S''''</text>
<text class="lb" x="46" y="304">S'''</text><text class="lb" x="208" y="304">K'''</text>
<text class="lb" x="83" y="398">R''</text><text class="lb" x="143" y="398">H''</text>
<text class="lb" x="53" y="492">P''</text><text class="lb" x="178" y="492">G''</text>
<text class="lb" x="32" y="582">S''</text><text class="lb" x="210" y="582">Q''</text>
<text class="lb" x="290" y="363">k'''</text><text class="lb" x="290" y="457">h''</text><text class="lb" x="283" y="560">g''</text>
<text class="lb" x="86" y="677">R'</text><text class="lb" x="153" y="677">H'</text>
<text class="lb" x="60" y="773">P'</text><text class="lb" x="183" y="773">G'</text>
<text class="lb" x="35" y="863">S'</text><text class="lb" x="209" y="863">Q'</text>
<text class="lb" x="278" y="654">q''</text><text class="lb" x="277" y="746">h'</text><text class="lb" x="267" y="846">g'</text>
<text class="lb" x="90" y="955">R</text><text class="lb" x="158" y="955">H</text>
<text class="lb" x="58" y="1048">P</text><text class="lb" x="188" y="1048">G</text>
<text class="lb" x="37" y="1146">S</text><text class="lb" x="215" y="1146">Q</text>
<text class="lb" x="262" y="950">q'</text><text class="lb" x="258" y="1026">h</text>

<text class="lb" x="417" y="28">S''''</text>
<text class="lb" x="439" y="212">P'''</text><text class="lb" x="553" y="212">L'''</text>
<text class="lb" x="409" y="295">S'''</text><text class="lb" x="592" y="295">Q'''</text>
<text class="lb" x="688" y="277">l'''</text><text class="lb" x="672" y="364">q'''</text>
<text class="lb" x="465" y="398">R''</text><text class="lb" x="525" y="398">H''</text>
<text class="lb" x="435" y="492">P''</text><text class="lb" x="560" y="492">G''</text>
<text class="lb" x="414" y="582">S''</text><text class="lb" x="592" y="582">Q''</text>
<text class="lb" x="672" y="458">h''</text><text class="lb" x="665" y="561">g''</text>
<text class="lb" x="468" y="677">R'</text><text class="lb" x="535" y="677">H'</text>
<text class="lb" x="442" y="773">P'</text><text class="lb" x="565" y="773">G'</text>
<text class="lb" x="417" y="863">S'</text><text class="lb" x="591" y="863">Q'</text>
<text class="lb" x="660" y="656">q''</text><text class="lb" x="659" y="748">h'</text><text class="lb" x="649" y="847">g'</text>
<text class="lb" x="472" y="956">R</text><text class="lb" x="540" y="955">H</text>
<text class="lb" x="440" y="1050">P</text><text class="lb" x="570" y="1050">G</text>
<text class="lb" x="419" y="1147">S</text><text class="lb" x="597" y="1147">Q</text>
<text class="lb" x="642" y="953">q'</text><text class="lb" x="640" y="1033">h</text>

<text class="lb" x="793" y="26">S''''</text>
<text class="lb" x="840" y="118">R'''</text><text class="lb" x="899" y="118">H'''</text>
<text class="lb" x="809" y="213">P'''</text><text class="lb" x="934" y="213">G'''</text>
<text class="lb" x="793" y="298">S'''</text><text class="lb" x="952" y="298">Q'''</text>
<text class="lb" x="1065" y="193">h'''</text><text class="lb" x="1063" y="282">g'''</text><text class="lb" x="1053" y="367">q'''</text>
<text class="lb" x="846" y="400">R''</text><text class="lb" x="906" y="400">H''</text>
<text class="lb" x="816" y="494">P''</text><text class="lb" x="941" y="494">G''</text>
<text class="lb" x="795" y="584">S''</text><text class="lb" x="973" y="584">Q''</text>
<text class="lb" x="1053" y="460">h''</text><text class="lb" x="1046" y="563">g''</text>
<text class="lb" x="849" y="679">R'</text><text class="lb" x="916" y="679">H'</text>
<text class="lb" x="823" y="775">P'</text><text class="lb" x="946" y="775">G'</text>
<text class="lb" x="798" y="866">S'</text><text class="lb" x="972" y="866">Q'</text>
<text class="lb" x="1041" y="658">q''</text><text class="lb" x="1040" y="750">h'</text><text class="lb" x="1030" y="849">g'</text>
<text class="lb" x="853" y="959">R</text><text class="lb" x="921" y="959">H</text>
<text class="lb" x="821" y="1052">P</text><text class="lb" x="951" y="1052">G</text>
<text class="lb" x="796" y="1150">S</text><text class="lb" x="978" y="1152">Q</text>
<text class="lb" x="1025" y="955">q'</text><text class="lb" x="1020" y="1035">h</text>
</g>
</svg>
